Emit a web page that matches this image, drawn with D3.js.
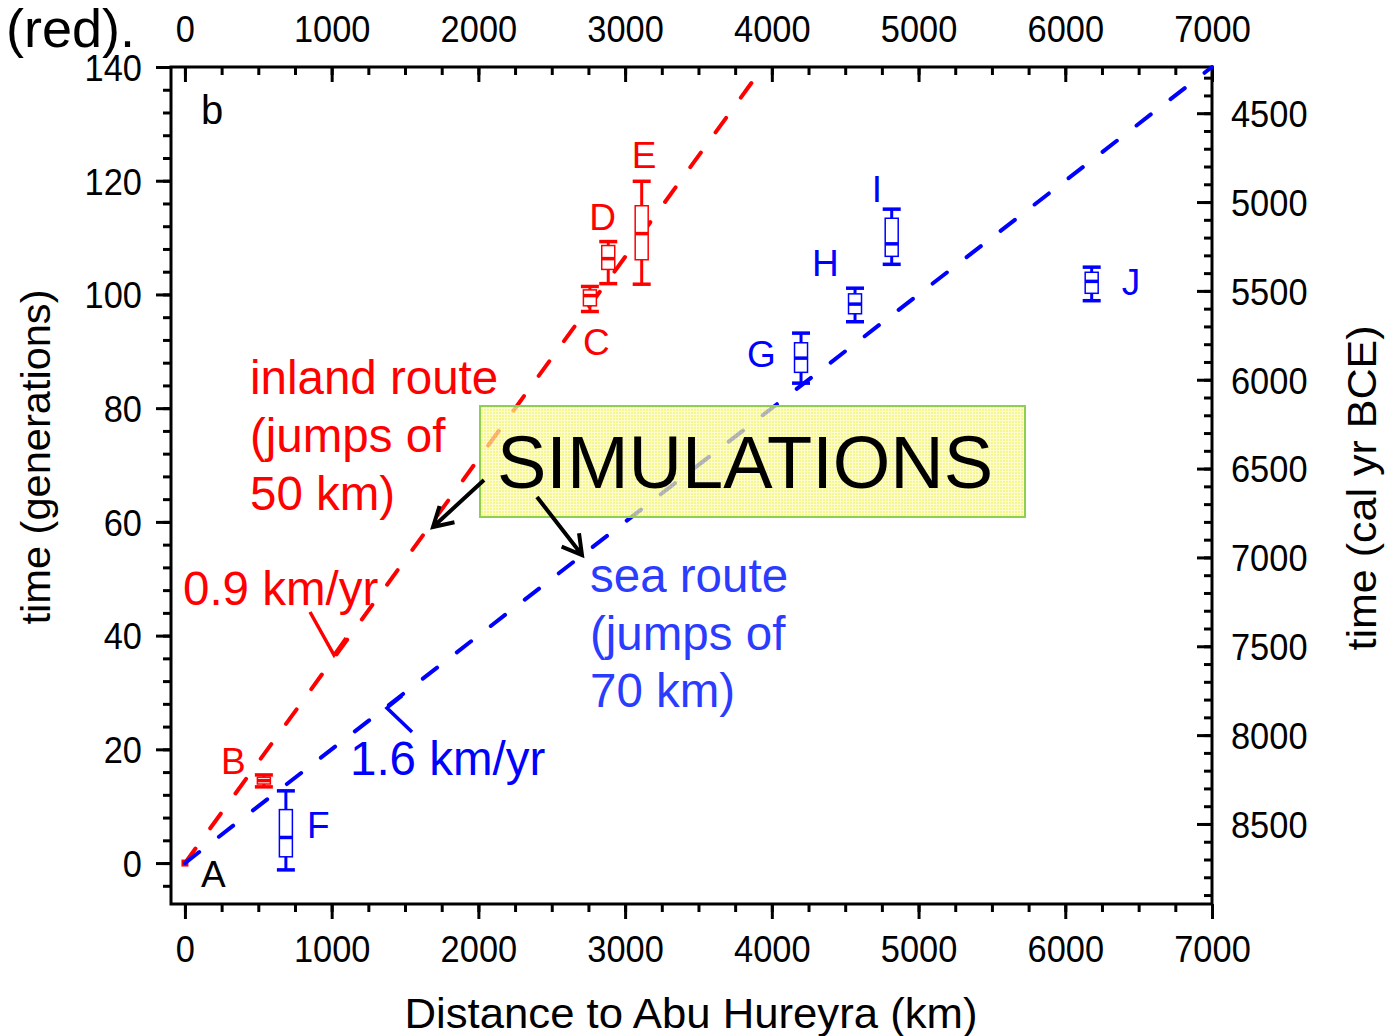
<!DOCTYPE html>
<meta charset="utf-8">
<script src="https://d3js.org/d3.v7.min.js"></script>
<style>
  body { margin: 0; background: #fff; }
  text { font-family: "Liberation Sans", Arial, Helvetica, sans-serif; }
</style>
<div id="chart"></div>
<script>
// values
const kmTicks  = [0, 1000, 2000, 3000, 4000, 5000, 6000, 7000];
const genTicks = [0, 20, 40, 60, 80, 100, 120, 140];
const bceTicks = [4500, 5000, 5500, 6000, 6500, 7000, 7500, 8000, 8500];

// inland route (red) box plots, generations
const inlandSites = ["B", "C", "D", "E"];
const inlandKm    = [538, 2760, 2885, 3113];
const inlandMin   = [13.4, 97.0, 101.9, 101.8];
const inlandQ1    = [13.9, 98.0, 104.4, 106.1];
const inlandMed   = [14.5, 99.8, 106.3, 110.7];
const inlandQ3    = [15.1, 100.8, 108.6, 115.6];
const inlandMax   = [15.5, 101.4, 109.3, 119.9];

// sea route (blue) box plots
const seaSites = ["F", "G", "H", "I", "J"];
const seaKm    = [688, 4199, 4567, 4817, 6180];
const seaMin   = [-1.2, 84.4, 95.2, 105.3, 98.9];
const seaQ1    = [1.1, 86.3, 96.6, 106.7, 100.2];
const seaMed   = [4.5, 88.8, 98.3, 108.9, 102.3];
const seaQ3    = [9.4, 91.5, 100.1, 113.4, 103.9];
const seaMax   = [12.7, 93.2, 101.1, 115.0, 104.8];

// fitted fronts
const inlandFitKm  = [0, 3940];
const inlandFitGen = [0, 140];
const seaFitKm     = [0, 7000];
const seaFitGen    = [0, 140];

// years per generation used for the right axis
const yearsAtZero = 8720, yearsPerGen = 32;

var RED = "#ff0000", BLUE = "#0000ff";

var width = 1388, height = 1036;
var svg = d3.select("#chart").append("svg")
    .attr("width", width).attr("height", height);

var x = d3.scaleLinear().domain([-95, 7000]).range([171, 1212]);
var y = d3.scaleLinear().domain([-7.2, 140]).range([904, 67]);
var yr = d3.scaleLinear()
    .domain([yearsAtZero + 7.2 * yearsPerGen, yearsAtZero - 140 * yearsPerGen])
    .range([904, 67]);

var squeeze = 0.93;   // tick digits look a bit narrow
var fmt = d3.format("d");

function styleAxis(g) {
  g.select(".domain").remove();
  g.selectAll("line").attr("stroke", "#000").attr("stroke-width", 3);
  g.selectAll("text").attr("fill", "#000").attr("font-size", 37);
}

// bottom axis (ticks outwards)
svg.append("g").attr("transform", "translate(0,904)")
  .call(d3.axisBottom(x).tickValues(d3.range(0, 7001, 250)).tickSize(8).tickFormat(""))
  .call(styleAxis);
svg.append("g").attr("transform", "translate(0,904)")
  .call(d3.axisBottom(x).tickValues(kmTicks).tickSize(15).tickFormat(fmt))
  .call(styleAxis)
  .selectAll("text").attr("y", 58).attr("dy", null)
  .attr("transform", "scale(" + squeeze + ",1)");

// top axis (ticks inwards)
svg.append("g").attr("transform", "translate(0,67)")
  .call(d3.axisTop(x).tickValues(d3.range(0, 7001, 250)).tickSize(-8).tickFormat(""))
  .call(styleAxis);
svg.append("g").attr("transform", "translate(0,67)")
  .call(d3.axisTop(x).tickValues(kmTicks).tickSize(-15).tickFormat(fmt))
  .call(styleAxis)
  .selectAll("text").attr("y", -25).attr("dy", null)
  .attr("transform", "scale(" + squeeze + ",1)");

// left axis (ticks outwards)
svg.append("g").attr("transform", "translate(171,0)")
  .call(d3.axisLeft(y).tickValues(d3.range(-4, 141, 4)).tickSize(8).tickFormat(""))
  .call(styleAxis);
svg.append("g").attr("transform", "translate(171,0)")
  .call(d3.axisLeft(y).tickValues(genTicks).tickSize(15).tickFormat(fmt))
  .call(styleAxis)
  .selectAll("text").attr("x", -29 / squeeze).attr("dy", "0.36em")
  .attr("transform", "scale(" + squeeze + ",1)");

// right axis (ticks inwards)
svg.append("g").attr("transform", "translate(1212,0)")
  .call(d3.axisRight(yr).tickValues(d3.range(4300, 8901, 100)).tickSize(-8).tickFormat(""))
  .call(styleAxis);
svg.append("g").attr("transform", "translate(1212,0)")
  .call(d3.axisRight(yr).tickValues(bceTicks).tickSize(-15).tickFormat(fmt))
  .call(styleAxis)
  .selectAll("text").attr("x", 19 / squeeze).attr("dy", "0.36em")
  .attr("transform", "scale(" + squeeze + ",1)");

// frame
svg.append("rect")
  .attr("x", x(-95)).attr("y", y(140))
  .attr("width", x(7000) - x(-95)).attr("height", y(-7.2) - y(140))
  .attr("fill", "none").attr("stroke", "#000").attr("stroke-width", 3);

// axis titles
svg.append("text")
  .attr("x", 691).attr("y", 1028).attr("text-anchor", "middle")
  .attr("font-size", 42).attr("textLength", 573).attr("lengthAdjust", "spacingAndGlyphs")
  .text("Distance to Abu Hureyra (km)");
svg.append("text")
  .attr("transform", "translate(50,457) rotate(-90)").attr("text-anchor", "middle")
  .attr("font-size", 41).attr("textLength", 335).attr("lengthAdjust", "spacingAndGlyphs")
  .text("time (generations)");
svg.append("text")
  .attr("transform", "translate(1376,488) rotate(-90)").attr("text-anchor", "middle")
  .attr("font-size", 41).attr("textLength", 325).attr("lengthAdjust", "spacingAndGlyphs")
  .text("time (cal yr BCE)");

svg.append("text").attr("x", 6).attr("y", 47).attr("font-size", 54).text("(red).");
svg.append("text").attr("x", 201).attr("y", 124).attr("font-size", 40).text("b");

// origin marker
svg.append("rect")
  .attr("x", x(0) - 3.5).attr("y", y(0) - 3.5).attr("width", 7).attr("height", 7)
  .attr("fill", RED);

// dashed fronts
var line = d3.line().x(function(d) { return x(d[0]); }).y(function(d) { return y(d[1]); });
function front(km, gen, color) {
  svg.append("path")
    .datum(km.map(function(k, i) { return [k, gen[i]]; }))
    .attr("d", line)
    .attr("fill", "none").attr("stroke", color).attr("stroke-width", 4)
    .attr("stroke-linecap", "round").attr("stroke-dasharray", "18,25");
}
front(inlandFitKm, inlandFitGen, RED);
front(seaFitKm, seaFitGen, BLUE);

// box plots
function boxes(sites, km, lo, q1, med, q3, hi, color, offsets) {
  var g = svg.append("g");
  sites.forEach(function(s, i) {
    var cx = x(km[i]), bw = 13, cw = 18;
    g.append("line").attr("x1", cx).attr("x2", cx).attr("y1", y(hi[i])).attr("y2", y(lo[i]))
      .attr("stroke", color).attr("stroke-width", 3);
    g.append("rect").attr("x", cx - bw / 2).attr("y", y(q3[i]))
      .attr("width", bw).attr("height", Math.max(1, y(q1[i]) - y(q3[i])))
      .attr("fill", "#fff").attr("stroke", color).attr("stroke-width", 1.5);
    [lo[i], hi[i]].forEach(function(v) {
      g.append("line").attr("x1", cx - cw / 2).attr("x2", cx + cw / 2).attr("y1", y(v)).attr("y2", y(v))
        .attr("stroke", color).attr("stroke-width", 3.5);
    });
    g.append("line").attr("x1", cx - bw / 2).attr("x2", cx + bw / 2).attr("y1", y(med[i])).attr("y2", y(med[i]))
      .attr("stroke", color).attr("stroke-width", 3.5);
    g.append("text")
      .attr("x", cx + offsets[i][0]).attr("y", y(med[i]) + offsets[i][1])
      .attr("font-size", 37).attr("fill", color).text(s);
  });
}
boxes(inlandSites, inlandKm, inlandMin, inlandQ1, inlandMed, inlandQ3, inlandMax, RED,
      [[-43, -7], [-7, 59], [-19, -29], [-10, -66]]);
boxes(seaSites, seaKm, seaMin, seaQ1, seaMed, seaQ3, seaMax, BLUE,
      [[21, 1], [-54, 9], [-43, -28], [-20, -42], [30, 14]]);

svg.append("text").attr("x", x(0) + 16).attr("y", 887).attr("font-size", 37).text("A");

// route annotations
function lines(strs, x0, y0, step, color) {
  strs.forEach(function(s, i) {
    svg.append("text").attr("x", x0).attr("y", y0 + i * step)
      .attr("font-size", 47.5).attr("fill", color).text(s);
  });
}
lines(["inland route", "(jumps of", "50 km)"], 250, 394, 58, RED);
lines(["sea route", "(jumps of", "70 km)"], 590, 592, 57.5, "#2b3cff");
lines(["0.9 km/yr"], 183, 605, 0, RED);
lines(["1.6 km/yr"], 350, 775, 0, BLUE);

svg.append("path").attr("d", "M310,612 L334,655 L346,638")
  .attr("fill", "none").attr("stroke", RED).attr("stroke-width", 3.5);
svg.append("path").attr("d", "M412,732 L387,708 L402,696")
  .attr("fill", "none").attr("stroke", BLUE).attr("stroke-width", 3.5);

// SIMULATIONS box
var defs = svg.append("defs");
var pat = defs.append("pattern").attr("id", "grid")
  .attr("width", 3).attr("height", 3).attr("patternUnits", "userSpaceOnUse");
pat.append("rect").attr("width", 3).attr("height", 3).attr("fill", "#f2f266");
pat.append("path").attr("d", "M0,0.5 H3 M0.5,0 V3").attr("stroke", "#fbfbb8").attr("stroke-width", 1);

svg.append("rect").attr("x", 480).attr("y", 406).attr("width", 545).attr("height", 111)
  .attr("fill", "url(#grid)").attr("fill-opacity", 0.72)
  .attr("stroke", "#8fcf4f").attr("stroke-width", 2);
svg.append("text").attr("x", 497).attr("y", 488).attr("font-size", 74).text("SIMULATIONS");

function arrow(x1, y1, x2, y2) {
  var a = Math.atan2(y2 - y1, x2 - x1), L = 22, w = Math.PI / 6;
  svg.append("path")
    .attr("d", "M" + x1 + "," + y1 + " L" + x2 + "," + y2 +
      " M" + (x2 - L * Math.cos(a - w)) + "," + (y2 - L * Math.sin(a - w)) +
      " L" + x2 + "," + y2 +
      " L" + (x2 - L * Math.cos(a + w)) + "," + (y2 - L * Math.sin(a + w)))
    .attr("fill", "none").attr("stroke", "#000").attr("stroke-width", 4)
    .attr("stroke-linejoin", "miter");
}
arrow(484, 480, 433, 527);
arrow(537, 497, 582, 555);
</script>
